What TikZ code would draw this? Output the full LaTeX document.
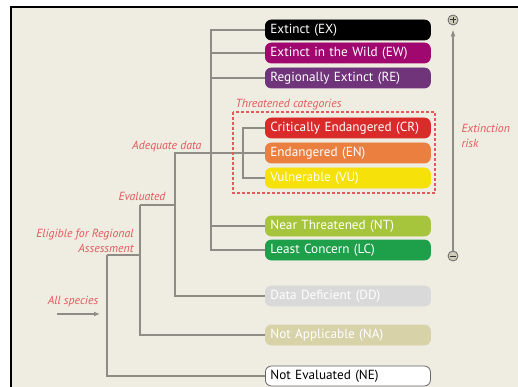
\documentclass[tikz,border=0pt]{standalone}
\usepackage{fontspec}
\setmainfont{PT Sans}
\usepackage{xcolor}
\usetikzlibrary{arrows.meta, positioning, calc}

\definecolor{paper}{HTML}{EFECE2}
\definecolor{branchgray}{HTML}{8E8C84}
\definecolor{notered}{HTML}{E25A5C}
\definecolor{colEX}{HTML}{000000}
\definecolor{colEW}{HTML}{A1086F}
\definecolor{colRE}{HTML}{6F347A}
\definecolor{colCR}{HTML}{D92B2A}
\definecolor{colEN}{HTML}{EA7F40}
\definecolor{colVU}{HTML}{F6E10B}
\definecolor{colNT}{HTML}{A6C53C}
\definecolor{colLC}{HTML}{1EA04B}
\definecolor{colDD}{HTML}{D9D9D9}
\definecolor{colNA}{HTML}{D8D2A9}
\definecolor{colNE}{HTML}{FFFFFF}
\definecolor{knob}{HTML}{CFCBB6}

\begin{document}
\begin{tikzpicture}[x=1pt, y=-1pt,
  cat/.style={rectangle, rounded corners=6pt, anchor=west, minimum height=20pt,
    inner xsep=5pt, inner ysep=0pt, text width=155pt, align=left,
    line width=0.8pt, font=\fontsize{13.2}{15}\selectfont},
  branch/.style={draw=branchgray, line width=1.5pt},
  note/.style={text=notered, font=\fontsize{11.8}{15}\selectfont\itshape},
  riskend/.style={circle, draw=black!60, fill=knob, line width=0.8pt,
    minimum size=10pt, inner sep=0pt},
  sign/.style={draw=black!80, line width=1pt}]
\useasboundingbox (0,0) rectangle (518,387);
% paper and frame
\fill[white] (0,0) rectangle (518,387);
\fill[paper] (11,7) rectangle (518,387);
\draw[black, line width=1.2pt] (11,387) -- (11,7) -- (518,7);

% categories
\foreach \nm/\yy/\fc/\tc/\dc/\txt in {
  ex/30/colEX/white/colEX/Extinct (EX),
  ew/53/colEW/white/colEW/Extinct in the Wild (EW),
  re/78/colRE/white/colRE/Regionally Extinct (RE),
  cr/128/colCR/white/colCR/Critically Endangered (CR),
  en/153/colEN/white/colEN/Endangered (EN),
  vu/178/colVU/white/colVU/Vulnerable (VU),
  nt/226/colNT/white/colNT/Near Threatened (NT),
  lc/250/colLC/white/colLC/Least Concern (LC),
  dd/296/colDD/white/colDD/Data Deficient (DD),
  na/335/colNA/white/colNA/Not Applicable (NA),
  ne/376/colNE/black/black!60/Not Evaluated (NE)} {
  \node[cat, fill=\fc, draw=\dc, text=\tc] (\nm) at (265,\yy) {\txt};
}

% branch points
\coordinate (trunk) at (211,0);
\coordinate (threat) at (243,0);
\coordinate (adequate) at (175,0);
\coordinate (evaluated) at (140,205);
\coordinate (eligible) at (107,255);
\coordinate (allstart) at (57,314);

% tree
\draw[branch] (ex.west) -| (lc.west -| trunk) -- (lc.west);
\foreach \nm in {ew,re,nt} {
  \draw[branch] (\nm.west) -- (\nm.west -| trunk);
}
\draw[branch] (cr.west) -| (vu.west -| threat) -- (vu.west);
\draw[branch] (en.west) -| (dd.west -| adequate) -- (dd.west);
\draw[branch] (evaluated) -- (evaluated -| adequate);
\draw[branch] (evaluated) |- (na.west);
\draw[branch] (eligible) -- (eligible -| evaluated);
\draw[branch] (eligible) |- (ne.west);
\draw[branch, -{Latex[length=6pt,width=5pt]}, shorten >=7pt] (allstart) -- (allstart -| eligible);

% labels
\node[note, anchor=east] (adeqlbl) at (205,146) {Adequate data};
\node[note, anchor=east] (evallbl) at (169,196) {Evaluated};
\node[note, anchor=east, align=right] (eliglbl) at (137,241) {Eligible for Regional\\Assessment};
\node[note] (alllbl) at (73,301) {All species};
\node[note, anchor=west] (threatlbl) at (232,105) {Threatened categories};
\draw[draw=notered, line width=1.1pt, dash pattern=on 3pt off 2pt] (233,112) rectangle (435,193);

% extinction risk
\node[riskend] (plus) at (453,20) {};
\node[riskend] (minus) at (453,256) {};
\draw[branch, -{Latex[length=7pt,width=5pt]}, shorten >=4pt] (minus.north) -- (plus.south);
\draw[sign] ([xshift=-2.6pt]plus.center) -- ([xshift=2.6pt]plus.center);
\draw[sign] ([yshift=-2.6pt]plus.center) -- ([yshift=2.6pt]plus.center);
\draw[sign] ([xshift=-2.6pt]minus.center) -- ([xshift=2.6pt]minus.center);
\node[note, anchor=west, align=left] (risklbl) at (458,136) {Extinction\\risk};
\end{tikzpicture}
\end{document}
